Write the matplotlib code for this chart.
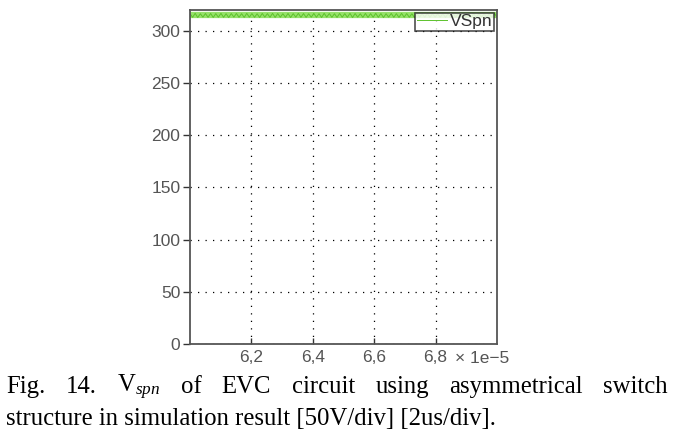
import matplotlib
matplotlib.use('Agg')
import matplotlib.pyplot as plt
import numpy as np

# data
t_start, t_end = 6.0e-5, 7.0e-5
vspn = [316.5, 313.0, 316.8, 312.8, 316.4, 313.2, 316.6, 313.0, 316.7, 312.9,
        316.5, 313.1, 316.8, 313.0, 316.4, 312.8, 316.6, 313.2, 316.7, 313.0,
        316.5, 312.9, 316.8, 313.1, 316.6, 313.0, 316.4, 312.8, 316.7, 313.2,
        316.5, 313.0, 316.8, 312.9, 316.6, 313.1, 316.4, 313.0, 316.7, 312.8,
        316.5, 313.2, 316.8, 313.0, 316.6, 312.9, 316.4, 313.1, 316.7, 313.0,
        316.5, 312.8, 316.8, 313.2, 316.6, 313.0, 316.4, 312.9, 316.7, 313.1,
        316.5, 313.0, 316.8, 312.8, 316.6, 313.2, 316.4, 313.0, 316.7, 312.9,
        316.5, 313.1, 316.8, 313.0, 316.6, 312.8, 316.4, 313.2, 316.7, 313.0,
        316.5, 312.9, 316.8, 313.1, 316.6, 313.0, 316.4, 312.8, 316.7, 313.2,
        316.5, 313.0, 316.8, 312.9, 316.6, 313.1, 316.4, 313.0, 316.7, 312.8,
        316.5, 313.2, 316.8, 313.0, 316.6, 312.9, 316.4, 313.1, 316.7, 313.0,
        316.5, 312.8, 316.8, 313.2, 316.6, 313.0, 316.4, 312.9, 316.7, 313.1]
yticks = [0, 50, 100, 150, 200, 250, 300]
xticks = [6.2e-5, 6.4e-5, 6.6e-5, 6.8e-5]
xticklabels = ['6,2', '6,4', '6,6', '6,8']

caption1 = ['Fig.', '14.', r'V$_{spn}$', 'of', 'EVC', 'circuit', 'using',
            'asymmetrical', 'switch']
caption2 = 'structure in simulation result [50V/div] [2us/div].'

plt.rcParams['mathtext.fontset'] = 'custom'
plt.rcParams['mathtext.rm'] = 'Liberation Serif'
plt.rcParams['mathtext.it'] = 'Liberation Serif:italic'

fig = plt.figure(figsize=(6.74, 4.43), dpi=100)
ax = fig.add_axes([190/674, 1 - 344/443, (497-190)/674, (344-10)/443])

t = np.linspace(t_start, t_end, len(vspn))
ax.plot(t, [315]*len(vspn), color='#96e06a', lw=4.5, solid_capstyle='butt')
ax.plot(t, vspn, color='#5cc22c', lw=0.7, label='VSpn')

ax.set_xlim(t_start, t_end)
ax.set_ylim(0, 320)
ax.set_yticks(yticks)
ax.set_xticks(xticks)
ax.set_xticklabels(xticklabels)

fs = 12.5
lab = dict(family='Liberation Sans', size=fs, color='#555555')
for l in ax.get_yticklabels() + ax.get_xticklabels():
    l.set_fontfamily('Liberation Sans')
    l.set_fontsize(fs)
    l.set_color('#555555')
ax.tick_params(axis='y', direction='out', length=5, width=1, color='#333333', pad=2)
ax.tick_params(axis='x', direction='in', length=4, width=1, color='#333333', pad=4)
ax.text(0.862, -0.057, '× 1e−5', transform=ax.transAxes, ha='left',
        va='baseline', **lab)

ax.grid(True, color='black', linestyle=(0, (1, 5)), linewidth=0.9)
for s in ax.spines.values():
    s.set_color('#555555')
    s.set_linewidth(1.3)

leg = ax.legend(loc='upper right', handlelength=1.7, handletextpad=0.2,
                borderpad=0.1, borderaxespad=0.15, fancybox=False,
                prop={'family': 'Liberation Sans', 'size': 12.5})
leg.get_frame().set_edgecolor('#222222')
leg.get_frame().set_linewidth(1.2)
for txt in leg.get_texts():
    txt.set_color('#333333')

# caption, first line justified
cap = dict(family='Liberation Serif', size=17.8, color='black')
renderer = fig.canvas.get_renderer()
x0, x1 = 6/674, 668/674
y1, y2 = 1 - 387/443, 1 - 419/443
words = [fig.text(0, y1, w, ha='left', va='center', **cap) for w in caption1]
widths = [w.get_window_extent(renderer).width / 674 for w in words]
gap = ((x1 - x0) - sum(widths)) / (len(words) - 1)
x = x0
for w, wd in zip(words, widths):
    w.set_x(x)
    x += wd + gap
fig.text(x0, y2, caption2, ha='left', va='center', **cap)

fig.savefig('out.png', dpi=100)
